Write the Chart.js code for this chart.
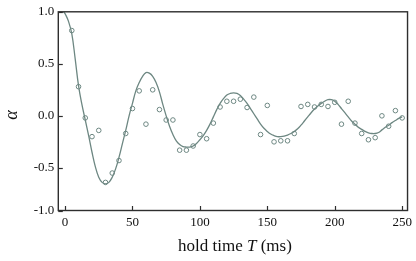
<!DOCTYPE html>
<html>
<head>
<meta charset="utf-8">
<script src="https://cdn.jsdelivr.net/npm/chart.js@4"></script>
<style>
html,body{margin:0;padding:0;background:#fff;}
canvas{display:block;}
</style>
</head>
<body>
<canvas id="c" width="416" height="261"></canvas>
<script>
// measured hold times (ms) and alpha values
const pointTimes = [5,10,15,20,25,30,35,40,45,50,55,60,65,70,75,80,85,90,95,100,
  105,110,115,120,125,130,135,140,145,150,155,160,165,170,175,180,185,190,195,200,
  205,210,215,220,225,230,235,240,245,250];
const pointAlpha = [0.82,0.28,-0.02,-0.20,-0.14,-0.64,-0.55,-0.43,-0.17,0.07,
  0.24,-0.08,0.25,0.06,-0.04,-0.04,-0.33,-0.33,-0.29,-0.18,
  -0.22,-0.07,0.085,0.14,0.14,0.16,0.08,0.18,-0.18,0.10,
  -0.25,-0.24,-0.24,-0.17,0.09,0.11,0.085,0.11,0.09,0.13,
  -0.08,0.14,-0.07,-0.17,-0.23,-0.21,0.00,-0.10,0.05,-0.02];

// fitted curve
const curveTimes = [-1,0.5,2.5,5,7.5,10,12.5,15,17.5,20,22.5,25,27.5,30,32.5,35,37.5,40,42.5,45,
  47.5,50,52.5,55,57.5,60,62.5,65,67.5,70,72.5,75,77.5,80,82.5,85,87.5,90,92.5,95,
  97.5,100,102.5,105,107.5,110,112.5,115,117.5,120,122.5,125,127.5,130,132.5,135,137.5,140,142.5,145,
  147.5,150,152.5,155,157.5,160,162.5,165,167.5,170,172.5,175,177.5,180,182.5,185,187.5,190,192.5,195,
  197.5,200,202.5,205,207.5,210,212.5,215,217.5,220,222.5,225,227.5,230,232.5,235,237.5,240,242.5,245,
  247.5,250];
const curveAlpha = [1.0,0.97,0.91,0.79,0.55,0.29,0.11,-0.04,-0.19,-0.35,-0.49,-0.59,-0.64,-0.655,-0.64,-0.59,-0.51,-0.40,-0.27,-0.14,
  0.0,0.12,0.24,0.32,0.38,0.415,0.41,0.38,0.32,0.23,0.11,0.0,-0.10,-0.18,-0.24,-0.275,-0.295,-0.30,-0.30,-0.29,
  -0.265,-0.23,-0.19,-0.14,-0.08,-0.01,0.06,0.12,0.165,0.20,0.215,0.22,0.215,0.195,0.16,0.12,0.07,0.02,-0.03,-0.08,
  -0.12,-0.15,-0.175,-0.19,-0.20,-0.20,-0.195,-0.185,-0.17,-0.15,-0.125,-0.09,-0.05,-0.01,0.03,0.065,0.095,0.12,0.14,0.155,
  0.155,0.14,0.11,0.07,0.03,-0.01,-0.05,-0.08,-0.11,-0.13,-0.15,-0.163,-0.17,-0.17,-0.16,-0.135,-0.11,-0.09,-0.065,-0.045,
  -0.025,-0.01];

const xTickValues = [0,50,100,150,200,250];
const xTickLabels = ['0','50','100','150','200','250'];
const yTickValues = [-0.91,-0.5,0,0.5,1.0];
const yTickLabels = ['-1.0','-0.5','0.0','0.5','1.0'];

const SERIF = '"Liberation Serif", "Times New Roman", serif';
const markColor = '#6d8782';
const frameColor = '#2e2e2e';

const framePlugin = {
  id: 'frame',
  afterDraw(chart) {
    const {ctx, chartArea: a, scales: {x, y}} = chart;
    ctx.save();
    ctx.strokeStyle = frameColor;
    ctx.lineWidth = 1.4;
    ctx.strokeRect(a.left, a.top, a.right - a.left, a.bottom - a.top);
    ctx.lineWidth = 1.2;
    xTickValues.forEach(v => {
      const px = Math.round(x.getPixelForValue(v)) + 0.5;
      ctx.beginPath(); ctx.moveTo(px, a.bottom); ctx.lineTo(px, a.bottom - 4.5); ctx.stroke();
    });
    yTickValues.forEach(v => {
      const py = Math.round(y.getPixelForValue(v)) + 0.5;
      ctx.beginPath(); ctx.moveTo(a.left, py); ctx.lineTo(a.left + 4.5, py); ctx.stroke();
    });
    // x title with italic T
    ctx.fillStyle = '#111';
    ctx.textBaseline = 'alphabetic';
    const fN = '17px ' + SERIF, fI = 'italic 17px ' + SERIF;
    const parts = [['hold time ', fN], ['T', fI], [' (ms)', fN]];
    let w = 0;
    parts.forEach(p => { ctx.font = p[1]; w += ctx.measureText(p[0]).width; });
    let cx = (a.left + a.right) / 2 + 2 - w / 2;
    parts.forEach(p => { ctx.font = p[1]; ctx.textAlign = 'left'; ctx.fillText(p[0], cx, 251); cx += ctx.measureText(p[0]).width; });
    // y title
    ctx.translate(17, (a.top + a.bottom) / 2 + 4);
    ctx.rotate(-Math.PI / 2);
    ctx.font = 'italic 18px ' + SERIF;
    ctx.textAlign = 'center';
    ctx.fillText('α', 0, 0);
    ctx.restore();
  }
};

new Chart(document.getElementById('c'), {
  type: 'scatter',
  data: {
    datasets: [
      {
        label: 'fit',
        data: curveTimes.map((t, i) => ({x: t, y: curveAlpha[i]})),
        showLine: true,
        borderColor: markColor,
        borderWidth: 1.3,
        pointRadius: 0,
        tension: 0.4,
        fill: false,
        order: 2
      },
      {
        label: 'data',
        data: pointTimes.map((t, i) => ({x: t, y: pointAlpha[i]})),
        showLine: false,
        pointRadius: 2.3,
        pointBorderWidth: 1,
        pointBorderColor: markColor,
        pointBackgroundColor: 'rgba(255,255,255,0)',
        order: 1
      }
    ]
  },
  options: {
    responsive: false,
    animation: false,
    layout: {padding: {left: 0, right: 7, top: 9.5, bottom: 0}},
    plugins: {legend: {display: false}, tooltip: {enabled: false}},
    scales: {
      x: {
        type: 'linear', min: -5, max: 254,
        grid: {display: false, drawTicks: false},
        border: {display: false},
        afterBuildTicks: s => { s.ticks = xTickValues.map(v => ({value: v})); },
        afterFit: s => { s.height = 50.5; },
        ticks: {
          padding: 4, color: '#111', font: {family: SERIF, size: 13},
          maxRotation: 0, autoSkip: false,
          callback: (v, i) => xTickLabels[i]
        }
      },
      y: {
        type: 'linear', min: -0.91, max: 1.0,
        grid: {display: false, drawTicks: false},
        border: {display: false},
        afterBuildTicks: s => { s.ticks = yTickValues.map(v => ({value: v})); },
        afterFit: s => { s.width = 58.3; },
        ticks: {
          padding: 4, color: '#111', font: {family: SERIF, size: 13},
          autoSkip: false,
          callback: (v, i) => yTickLabels[i]
        }
      }
    }
  },
  plugins: [framePlugin]
});
</script>
</body>
</html>
